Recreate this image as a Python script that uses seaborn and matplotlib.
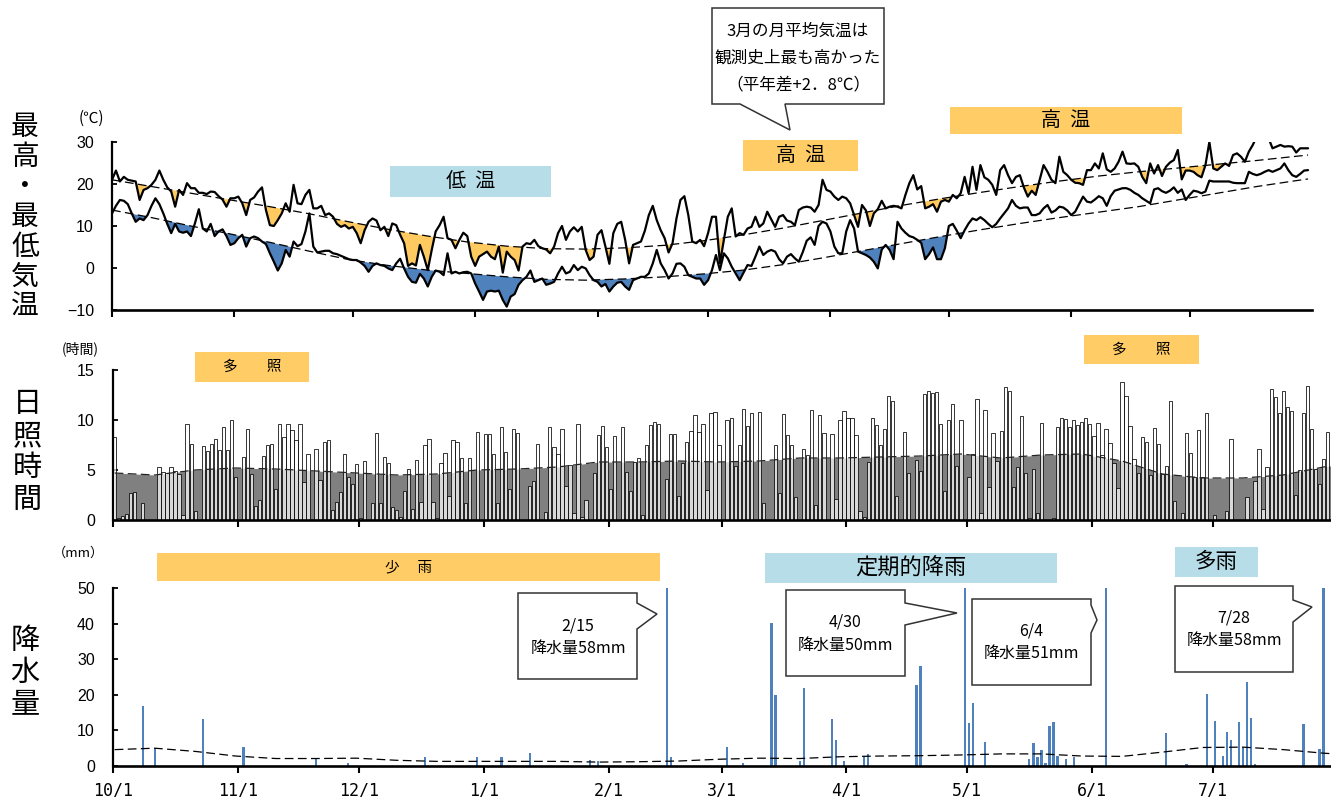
import numpy as np
import matplotlib
matplotlib.use("Agg")
import matplotlib.pyplot as plt
import seaborn as sns
from matplotlib.patches import Rectangle, Polygon

# ---------------- data (day index 0 = 10/1) ----------------
month_start = [0, 31, 61, 92, 123, 151, 182, 212, 243, 273]
month_labels = ["10/1", "11/1", "12/1", "1/1", "2/1", "3/1", "4/1", "5/1", "6/1", "7/1"]

# daily maximum temperature (deg C)
t_max = [
    21.0, 23.2, 20.6, 21.7, 21.0, 20.8, 20.6, 16.2, 18.6, 19.0,
    19.8, 21.0, 23.2, 21.0, 19.2, 18.2, 14.6, 18.6, 17.4, 20.2,
    19.0, 19.0, 17.9, 17.9, 17.6, 18.2, 18.1, 17.1, 16.3, 14.6,
    16.6, 16.6, 17.0, 15.4, 12.6, 16.2, 16.8, 18.2, 19.2, 13.8,
    10.2, 10.0, 11.4, 13.0, 15.4, 13.4, 19.8, 15.4, 15.2, 17.4,
    18.6, 14.2, 14.2, 14.8, 12.6, 13.0, 12.2, 10.5, 9.8, 10.2,
    9.4, 9.8, 8.3, 5.9, 9.0, 11.0, 11.8, 11.3, 9.0, 9.8,
    7.6, 10.6, 10.2, 7.9, 5.9, 0.5, 1.1, 0.6, 5.5, 2.7,
    -0.5, 4.3, 8.7, 10.2, 12.2, 7.1, 6.7, 4.7, 6.7, 8.4,
    7.6, 2.7, 0.5, 2.7, 3.3, 3.9, 2.7, 2.1, 5.1, -1.1,
    3.9, 2.7, 1.9, -0.6, 5.1, 5.9, 5.7, 6.7, 5.2, 4.7,
    4.4, 3.5, 5.1, 8.3, 10.0, 6.7, 8.7, 9.7, 8.7, 9.8,
    4.3, 1.9, 2.7, 7.9, 9.0, 5.1, 1.0, 8.3, 10.5, 11.0,
    6.7, 1.1, 5.5, 5.9, 6.3, 8.9, 12.6, 14.8, 11.4, 9.0,
    7.1, 3.7, 5.9, 11.8, 16.2, 17.1, 12.6, 6.3, 5.9, 6.7,
    5.2, 8.3, 12.2, 12.2, 1.1, 6.7, 12.2, 14.2, 7.5, 8.3,
    7.9, 9.4, 9.8, 12.2, 9.8, 10.6, 13.4, 11.6, 9.8, 12.2,
    12.6, 11.3, 11.0, 10.2, 13.8, 14.4, 14.6, 14.4, 13.4, 15.0,
    21.0, 18.6, 18.2, 17.0, 16.2, 17.0, 16.6, 15.4, 12.6, 9.8,
    15.0, 13.7, 10.0, 13.0, 14.0, 16.0, 14.2, 14.6, 14.8, 14.6,
    14.2, 17.4, 20.2, 22.1, 18.7, 19.5, 14.2, 14.6, 15.2, 13.4,
    15.8, 16.2, 15.8, 17.4, 16.6, 17.8, 21.7, 17.8, 24.1, 18.6,
    24.5, 21.6, 21.0, 19.8, 17.4, 23.3, 24.5, 22.1, 20.2, 21.7,
    22.1, 19.2, 17.0, 18.4, 17.4, 21.0, 24.5, 22.9, 21.0, 20.2,
    26.5, 22.9, 22.1, 21.0, 20.3, 20.2, 19.8, 23.3, 23.3, 24.9,
    23.7, 27.3, 23.5, 22.9, 23.7, 25.3, 27.7, 24.9, 24.8, 24.9,
    24.1, 21.7, 20.2, 24.9, 22.5, 24.5, 21.9, 24.1, 25.1, 25.7,
    28.1, 21.1, 23.2, 23.2, 22.9, 22.1, 21.6, 24.5, 30.0, 23.7,
    23.3, 24.1, 24.9, 24.3, 26.9, 27.3, 26.5, 25.3, 27.7, 29.3,
    31.3, 32.5, 32.1, 30.9, 28.5, 28.9, 29.3, 28.9, 29.0, 28.9,
    27.5, 28.5, 28.5, 28.5,
]

# daily minimum temperature (deg C)
t_min = [
    13.0, 14.8, 16.2, 16.0, 15.2, 13.0, 11.0, 11.8, 11.4, 12.6,
    14.8, 16.6, 15.2, 13.0, 10.5, 8.3, 10.5, 8.7, 8.4, 8.7,
    7.6, 10.6, 14.0, 9.4, 8.7, 10.5, 7.6, 8.7, 9.2, 7.6,
    5.5, 5.9, 7.1, 7.9, 5.1, 7.1, 7.5, 7.1, 6.3, 5.7,
    3.5, 1.5, -0.6, 1.1, 4.3, 2.7, 6.3, 5.2, 5.7, 8.7,
    13.0, 5.1, 3.7, 3.9, 4.1, 4.1, 3.5, 3.3, 2.9, 2.5,
    2.1, 1.9, 1.9, 1.3, 0.5, -0.9, 0.5, 1.1, 0.7, 0.5,
    -0.1, -0.5, 1.1, 2.2, -0.1, -2.1, -3.3, -3.5, -1.4, -2.5,
    -4.4, -2.1, -0.6, -0.9, -1.7, 3.5, -1.3, -0.9, -1.3, -1.0,
    -0.9, -1.3, -3.7, -5.6, -7.6, -5.6, -5.4, -5.6, -5.4, -7.6,
    -9.2, -6.8, -6.2, -4.0, -2.9, -2.1, -0.6, -3.3, -2.9, -2.5,
    -4.0, -3.7, -3.3, -1.3, 0.3, -1.3, -0.9, 0.7, -0.5, 0.3,
    -0.1, -1.7, -2.9, -3.3, -4.4, -3.8, -5.6, -4.4, -3.5, -3.3,
    -4.4, -5.2, -2.9, -2.5, -2.1, -2.1, -1.3, 1.1, 4.3, 1.1,
    -0.5, -2.5, -1.3, 1.0, 1.1, 0.3, -1.7, -2.1, -2.5, -2.5,
    -4.0, -2.9, -0.5, 3.1, -0.5, 3.5, 2.3, 0.3, -1.3, -2.9,
    -1.1, 0.7, 0.5, 2.7, 5.1, 3.1, 3.9, 4.3, 3.9, 2.1,
    1.1, 2.7, 3.3, 2.3, 1.5, 3.8, 6.5, 7.3, 5.5, 10.0,
    11.0, 10.6, 8.7, 5.1, 3.5, 3.5, 8.7, 11.4, 9.4, 3.9,
    3.5, 3.1, 2.5, 1.5, -0.1, 4.4, 5.5, 4.3, 2.1, 11.0,
    9.4, 8.4, 7.6, 7.3, 6.7, 6.0, 2.1, 3.3, 4.9, 2.1,
    2.1, 4.7, 10.0, 10.5, 8.9, 7.1, 9.0, 10.6, 11.8, 11.4,
    12.1, 11.4, 10.5, 9.7, 10.5, 11.8, 13.0, 14.2, 16.2, 14.8,
    14.2, 14.4, 14.4, 12.6, 12.6, 13.0, 14.2, 15.0, 13.2, 13.7,
    14.6, 14.4, 13.7, 12.6, 13.4, 15.2, 17.0, 15.8, 15.6, 16.3,
    17.1, 16.6, 14.8, 17.1, 18.4, 18.7, 19.0, 19.0, 18.6, 17.9,
    17.4, 16.6, 16.0, 15.4, 18.7, 19.0, 18.3, 17.9, 18.4, 19.2,
    17.9, 18.7, 16.2, 17.4, 18.4, 18.2, 17.8, 18.2, 20.8, 20.6,
    20.6, 20.6, 20.6, 20.6, 20.3, 20.2, 20.2, 20.2, 22.9, 22.4,
    22.1, 22.4, 22.9, 23.3, 22.9, 23.3, 23.7, 24.9, 23.3, 22.1,
    21.7, 22.4, 23.2, 23.3,
]

# daily sunshine duration (hours)
sun_hours = [
    8.3, 0.2, 0.4, 0.6, 2.7, 2.8, 0.0, 1.7, 0.0, 0.0,
    0.0, 5.3, 4.8, 4.7, 5.3, 4.9, 4.6, 0.5, 9.6, 7.6,
    0.9, 0.0, 7.4, 6.9, 7.6, 8.1, 7.0, 9.3, 7.0, 10.0,
    4.3, 0.0, 6.3, 9.1, 4.6, 1.4, 2.0, 6.4, 7.5, 7.6,
    3.1, 9.6, 8.3, 9.6, 9.0, 8.0, 9.6, 3.8, 6.6, 0.0,
    7.1, 4.0, 7.8, 8.0, 1.0, 1.8, 2.8, 6.6, 4.3, 3.6,
    5.6, 0.2, 5.9, 0.0, 1.7, 8.7, 1.7, 6.3, 5.7, 1.3,
    1.0, 0.3, 2.9, 5.1, 1.1, 6.0, 1.8, 7.5, 8.1, 1.8,
    0.2, 5.7, 6.7, 2.4, 8.0, 7.8, 6.2, 1.7, 6.2, 0.0,
    8.8, 0.0, 8.6, 8.6, 6.6, 1.7, 9.3, 6.8, 3.1, 9.1,
    8.7, 0.0, 0.0, 3.4, 3.9, 7.6, 0.0, 0.8, 9.3, 7.3,
    6.6, 9.1, 3.4, 5.5, 0.7, 9.6, 0.3, 2.0, 0.0, 4.7,
    8.5, 9.4, 7.3, 3.1, 8.4, 0.0, 9.3, 4.8, 2.9, 5.8,
    6.2, 0.5, 7.5, 9.5, 9.8, 9.6, 0.0, 4.1, 8.6, 8.6,
    2.4, 5.7, 7.8, 8.9, 10.5, 8.8, 9.6, 3.0, 10.7, 10.8,
    7.5, 0.0, 10.0, 10.2, 5.4, 7.5, 11.1, 9.4, 10.7, 0.0,
    10.8, 1.7, 0.0, 0.0, 7.5, 2.7, 10.6, 8.5, 7.5, 2.3,
    0.0, 7.1, 6.5, 11.0, 1.5, 10.5, 8.7, 0.0, 8.6, 2.1,
    10.0, 10.9, 10.2, 10.2, 8.5, 0.9, 0.3, 5.8, 10.2, 9.5,
    7.5, 9.1, 12.4, 11.9, 2.4, 0.0, 8.8, 4.7, 0.0, 6.0,
    4.9, 12.6, 12.9, 12.7, 12.8, 9.6, 2.9, 10.0, 11.6, 5.4,
    10.0, 0.0, 4.3, 6.6, 12.1, 0.7, 11.0, 3.3, 8.7, 5.9,
    8.9, 13.3, 12.9, 3.3, 5.3, 10.4, 4.7, 0.2, 5.1, 0.7,
    9.7, 0.0, 0.0, 0.2, 9.3, 10.2, 10.1, 9.3, 10.0, 9.5,
    9.8, 10.2, 9.6, 8.4, 9.7, 6.5, 9.1, 7.7, 5.7, 3.2,
    13.8, 12.4, 9.4, 6.1, 4.7, 8.3, 7.8, 4.5, 9.2, 7.6,
    4.6, 5.4, 11.9, 1.9, 0.0, 0.7, 8.7, 6.7, 4.3, 9.0,
    4.3, 10.7, 0.0, 0.5, 0.0, 0.0, 0.9, 8.1, 0.0, 0.0,
    0.0, 2.3, 0.0, 3.9, 7.1, 1.1, 5.3, 13.1, 12.3, 10.7,
    12.9, 11.3, 10.9, 2.5, 5.0, 10.7, 13.4, 9.1, 5.1, 3.6,
    6.1, 8.8,
]

# days with precipitation and daily totals (mm)
rain_day = [7, 10, 22, 32, 50, 58, 77, 90, 96, 103,
            118, 120, 137, 138, 152, 156, 163, 164, 170, 171,
            178, 179, 181, 186, 187, 199, 200, 211, 212, 213,
            216, 227, 228, 229, 230, 231, 232, 233, 234, 236,
            238, 246, 261, 266, 271, 273, 275, 276, 277, 279,
            280, 281, 282, 283, 295, 299, 300]
rain_mm = [16.9, 5.0, 13.2, 5.3, 1.9, 0.9, 2.4, 2.6, 2.6, 3.7,
           1.7, 1.3, 58.0, 2.4, 5.4, 0.9, 40.3, 19.9, 1.5, 21.8,
           13.2, 7.3, 1.4, 2.6, 3.3, 22.8, 28.2, 50.0, 12.0, 17.8,
           6.8, 1.9, 6.4, 2.6, 4.6, 0.8, 11.3, 12.3, 2.9, 1.9,
           2.6, 51.0, 9.4, 0.7, 20.2, 12.7, 2.8, 9.6, 7.3, 12.3,
           5.2, 23.5, 13.6, 0.7, 11.7, 4.7, 58.0]

# climatological normals, every 10 days
normal_days = list(range(0, 301, 10)) + [303]
t_max_normal = [21.0, 19.4, 17.8, 16.2, 14.6, 12.9, 11.0, 9.2, 7.6, 6.2,
                5.2, 4.6, 4.5, 4.8, 5.4, 6.5, 7.9, 9.5, 11.3, 13.1,
                14.9, 16.5, 18.0, 19.4, 20.7, 21.9, 22.9, 23.8, 24.7, 25.6,
                26.6, 26.9]
t_min_normal = [13.8, 12.0, 10.0, 8.1, 6.1, 4.0, 2.0, 0.6, -0.5, -1.3,
                -2.1, -2.7, -2.9, -2.6, -2.1, -1.4, -0.5, 0.8, 2.4, 4.1,
                5.8, 7.5, 9.1, 10.6, 12.0, 13.3, 14.6, 16.2, 17.8, 19.4,
                20.8, 21.2]
sun_normal = [4.7, 4.5, 5.0, 5.2, 5.1, 4.9, 4.7, 4.5, 4.6, 5.0,
              5.1, 5.3, 5.8, 5.8, 5.9, 5.8, 5.9, 6.2, 6.2, 6.3,
              6.4, 6.6, 6.2, 6.5, 6.6, 5.9, 4.6, 4.2, 4.2, 4.5,
              5.3, 5.5]
rain_normal = [4.6, 5.0, 4.1, 2.8, 2.1, 2.1, 2.2, 1.6, 1.3, 1.3,
               1.3, 1.3, 1.1, 1.2, 1.4, 1.9, 2.2, 2.1, 2.6, 2.8,
               2.9, 3.1, 3.4, 3.4, 2.8, 2.7, 3.9, 5.2, 5.3, 4.6,
               3.6, 3.4]

# ---------------- style ----------------
ORANGE = "#FFCB61"
BOX_ORANGE = "#FFCC66"
LIGHT_BLUE = "#B7DEE8"
BLUE = "#4F81BD"
GRAY = "#808080"
DASH = (0, (7, 3.5))

sns.set_theme(style="white", rc={
    "axes.edgecolor": "black", "text.color": "black",
    "xtick.color": "black", "ytick.color": "black",
    "axes.labelcolor": "black",
})
plt.rcParams["font.family"] = ["Liberation Sans", "Noto Sans CJK JP", "DejaVu Sans"]
JP = ["Noto Sans CJK JP", "DejaVu Sans"]

W, H = 1331, 797
fig = plt.figure(figsize=(W / 100, H / 100), dpi=100)


def fx(x):
    return x / W


def fy(y):
    return 1 - y / H


def add_axes_px(x0, y0, x1, y1):
    return fig.add_axes([fx(x0), fy(y1), (x1 - x0) / W, (y1 - y0) / H])


def style_axes(ax, yticks):
    for s in ("top", "right"):
        ax.spines[s].set_visible(False)
    ax.spines["left"].set_linewidth(1.6)
    ax.spines["bottom"].set_linewidth(1.9)
    ax.set_yticks(yticks)
    ax.tick_params(axis="y", direction="in", length=3.5, width=1.3, pad=13,
                   labelsize=11.5, left=True)
    ax.tick_params(axis="x", direction="out", length=5, width=1.5, bottom=True)
    for lab in ax.get_yticklabels():
        lab.set_family(["Liberation Sans", "DejaVu Sans"])
    ax.set_xlabel("")
    ax.set_ylabel("")
    ax.grid(False)


# ---------------- temperature panel ----------------
ax1 = add_axes_px(112, 142, 1312, 310)
days_t = np.arange(len(t_max))
tmax = np.array(t_max)
tmin = np.array(t_min)
max_norm_d = np.interp(days_t, normal_days, t_max_normal)
min_norm_d = np.interp(days_t, normal_days, t_min_normal)
ax1.fill_between(days_t, tmax, max_norm_d, where=tmax < max_norm_d,
                 interpolate=True, color=ORANGE, lw=0, zorder=1)
ax1.fill_between(days_t, tmin, min_norm_d, where=tmin < min_norm_d,
                 interpolate=True, color=BLUE, lw=0, zorder=1)
sns.lineplot(x=normal_days, y=t_max_normal, color="black", linewidth=0.9,
             linestyle=DASH, ax=ax1, zorder=2)
sns.lineplot(x=normal_days, y=t_min_normal, color="black", linewidth=0.9,
             linestyle=DASH, ax=ax1, zorder=2)
sns.lineplot(x=days_t, y=t_max, color="black", linewidth=1.6, ax=ax1, zorder=3)
sns.lineplot(x=days_t, y=t_min, color="black", linewidth=1.6, ax=ax1, zorder=3)
ax1.set_xlim(0, 304)
ax1.set_ylim(-10, 30)
style_axes(ax1, [-10, 0, 10, 20, 30])
ax1.set_xticks(month_start)
ax1.set_xticklabels([])

# ---------------- sunshine panel ----------------
ax2 = add_axes_px(113, 370, 1330, 520)
sun_days = np.arange(len(sun_hours))
ax2.fill_between(normal_days, 0, sun_normal, color=GRAY, lw=0, zorder=1)
sns.barplot(x=sun_days, y=sun_hours, native_scale=True, orient="x",
            width=0.82, color="white", edgecolor="black", linewidth=0.55,
            saturation=1, errorbar=None, ax=ax2, zorder=2)
for p in ax2.patches:
    p.set_facecolor((1, 1, 1, 0.7))
sns.lineplot(x=normal_days, y=sun_normal, color="#222222", linewidth=0.9,
             linestyle=DASH, ax=ax2, zorder=3)
ax2.set_xlim(-0.4, 301.6)
ax2.set_ylim(0, 15)
style_axes(ax2, [0, 5, 10, 15])
ax2.set_xticks([m - 0.4 for m in month_start])
ax2.set_xticklabels([])

# ---------------- precipitation panel ----------------
ax3 = add_axes_px(113, 588, 1330, 766)
sns.barplot(x=rain_day, y=rain_mm, native_scale=True, orient="x",
            width=0.55, color=BLUE, linewidth=0, saturation=1,
            errorbar=None, ax=ax3, zorder=2)
sns.lineplot(x=normal_days, y=rain_normal, color="black", linewidth=0.9,
             linestyle=DASH, ax=ax3, zorder=3)
ax3.set_xlim(-0.4, 301.6)
ax3.set_ylim(0, 50)
style_axes(ax3, [0, 10, 20, 30, 40, 50])
ax3.set_xticks([m - 0.4 for m in month_start])
ax3.set_xticklabels(month_labels, family=["DejaVu Sans Mono"], fontsize=12)
ax3.tick_params(axis="x", pad=6)

# ---------------- titles and units ----------------
fig.text(fx(25), fy(217), "\n".join("最高・最低気温"), ha="center", va="center",
         fontsize=20, family=JP, linespacing=1.0)
fig.text(fx(27), fy(452), "\n".join("日照時間"), ha="center", va="center",
         fontsize=21, family=JP, linespacing=1.08)
fig.text(fx(25), fy(673), "\n".join("降水量"), ha="center", va="center",
         fontsize=21, family=JP, linespacing=1.1)
fig.text(fx(91), fy(118), "(℃)", ha="center", va="center", fontsize=11, family=JP)
fig.text(fx(80), fy(349), "(時間)", ha="center", va="center", fontsize=10, family=JP)
fig.text(fx(78), fy(553), "（mm）", ha="center", va="center", fontsize=9.5, family=JP)


# ---------------- period boxes ----------------
def period_box(x0, y0, x1, y1, color, label, size):
    fig.add_artist(Rectangle((fx(x0), fy(y1)), (x1 - x0) / W, (y1 - y0) / H,
                             transform=fig.transFigure, facecolor=color,
                             edgecolor="none", zorder=4))
    fig.text(fx((x0 + x1) / 2), fy((y0 + y1) / 2), label, ha="center",
             va="center", fontsize=size, family=JP, zorder=5)


period_box(390, 166, 551, 197, LIGHT_BLUE, "低  温", 14.5)
period_box(743, 140, 858, 171, BOX_ORANGE, "高  温", 14.5)
period_box(950, 107, 1182, 134, BOX_ORANGE, "高  温", 14.5)
period_box(195, 352, 309, 382, BOX_ORANGE, "多　　照", 10.5)
period_box(1084, 335, 1199, 364, BOX_ORANGE, "多　　照", 10.5)
period_box(157, 553, 660, 581, BOX_ORANGE, "少　 雨", 10.5)
period_box(765, 553, 1057, 583, LIGHT_BLUE, "定期的降雨", 16)
period_box(1175, 547, 1258, 577, LIGHT_BLUE, "多雨", 15.5)


# ---------------- callouts ----------------
def callout(verts, lines, cx, ys, size):
    pts = [(fx(x), fy(y)) for x, y in verts]
    fig.add_artist(Polygon(pts, closed=True, transform=fig.transFigure,
                           facecolor="white", edgecolor="#333333",
                           linewidth=1.1, zorder=6))
    for s, y in zip(lines, ys):
        fig.text(fx(cx), fy(y), s, ha="center", va="center", fontsize=size,
                 family=JP, zorder=7)


def right_callout(x0, y0, x1, y1, p1, tip, p2):
    return [(x0, y0), (x1, y0), (x1, p1), tip, (x1, p2), (x1, y1), (x0, y1)]


callout([(712, 8), (884, 8), (884, 104), (785, 104), (790, 130), (740, 104), (712, 104)],
        ["3月の月平均気温は", "観測史上最も高かった", "（平年差+2．8℃）"],
        798, [31, 58, 85], 12)
callout(right_callout(518, 593, 637, 679, 603, (657, 614), 629),
        ["2/15", "降水量58mm"], 578, [626, 648], 11.5)
callout(right_callout(786, 590, 905, 676, 603, (957, 613), 625),
        ["4/30", "降水量50mm"], 845, [622, 645], 11.5)
callout(right_callout(972, 599, 1091, 685, 605, (1097, 620), 633),
        ["6/4", "降水量51mm"], 1031, [631, 653], 11.5)
callout(right_callout(1175, 586, 1293, 672, 600, (1312, 607), 622),
        ["7/28", "降水量58mm"], 1234, [618, 640], 11.5)

fig.savefig("out.png", dpi=100)
